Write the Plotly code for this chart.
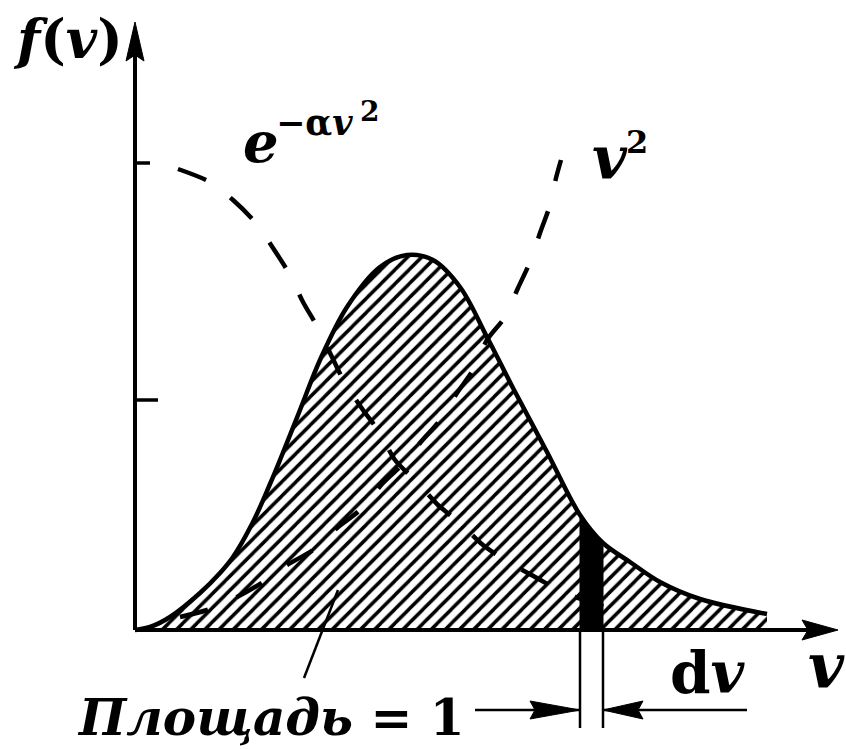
import plotly.graph_objects as go

# Drawing units: 1 unit = 100 px on both axes, origin of the v/f axes at (0, 0)

# Maxwell distribution f(v)
v_f = [0.00, 0.15, 0.35, 0.65, 0.85, 0.98, 1.18, 1.35, 1.45, 1.65, 1.85, 2.12,
       2.45, 2.72, 2.98, 3.25, 3.52, 3.78, 4.12, 4.45, 4.68, 4.95, 5.25, 5.65, 6.32]
f_v = [0.00, 0.03, 0.13, 0.37, 0.57, 0.73, 1.08, 1.46, 1.70, 2.20, 2.70, 3.23,
       3.63, 3.75, 3.70, 3.43, 2.93, 2.42, 1.78, 1.15, 0.87, 0.68, 0.48, 0.31, 0.16]

# exponential factor e^(-a v^2)
v_exp = [0.43, 0.75, 0.98, 1.20, 1.38, 1.55, 1.68, 1.83, 1.97, 2.10, 2.28, 2.45,
         2.60, 2.82, 3.03, 3.25, 3.48, 3.73, 4.02, 4.27, 4.72, 4.85]
f_exp = [4.61, 4.48, 4.30, 4.08, 3.82, 3.55, 3.28, 3.02, 2.73, 2.47, 2.20, 1.97,
         1.70, 1.48, 1.25, 1.07, 0.85, 0.68, 0.52, 0.38, 0.22, 0.15]

# quadratic factor v^2
v_sq = [0.45, 0.72, 1.02, 1.28, 1.52, 1.78, 2.02, 2.25, 2.48, 2.72, 2.85, 3.05,
        3.22, 3.38, 3.52, 3.70, 3.83, 3.95, 4.05, 4.15, 4.21, 4.26]
f_sq = [0.13, 0.20, 0.33, 0.48, 0.65, 0.80, 1.02, 1.20, 1.47, 1.70, 1.87, 2.10,
        2.37, 2.60, 2.90, 3.13, 3.42, 3.68, 3.97, 4.25, 4.52, 4.70]

# the narrow interval dv
dv_lo, dv_hi = 4.45, 4.68

# marks on the f axis
f_ticks = [2.30, 4.67]
f_tick_len = [0.23, 0.15]

INK = "black"
SERIF = "DejaVu Serif"

fig = go.Figure()

# hatched area under f(v)
fig.add_trace(go.Scatter(
    x=v_f, y=f_v, mode="lines", fill="tozeroy",
    fillcolor="white",
    fillpattern=dict(shape="/", size=10, solidity=0.35, fgcolor=INK,
                     bgcolor="white", fillmode="replace"),
    line=dict(color=INK, width=4.5, shape="spline", smoothing=1.0),
    hoverinfo="skip"))

# dashed factors
fig.add_trace(go.Scatter(
    x=v_exp, y=f_exp, mode="lines",
    line=dict(color=INK, width=4.5, dash="30px,30px", shape="spline", smoothing=0.8),
    hoverinfo="skip"))
fig.add_trace(go.Scatter(
    x=v_sq, y=f_sq, mode="lines",
    line=dict(color=INK, width=4.5, dash="29px,31px", shape="spline", smoothing=0.8),
    hoverinfo="skip"))

# black strip f(v) dv
strip = [(v, f) for v, f in zip(v_f, f_v) if dv_lo <= v <= dv_hi]
sx = [strip[0][0]] + [p[0] for p in strip] + [strip[-1][0]]
sy = [0] + [p[1] for p in strip] + [0]
fig.add_trace(go.Scatter(
    x=sx, y=sy, mode="lines", fill="toself", fillcolor=INK,
    line=dict(color=INK, width=1), hoverinfo="skip"))

shapes = []
v_end, f_end = 7.03, 6.08

# axes
shapes.append(dict(type="line", x0=0, y0=0, x1=v_end - 0.25, y1=0,
                   line=dict(color=INK, width=4)))
shapes.append(dict(type="line", x0=0, y0=0, x1=0, y1=f_end - 0.25,
                   line=dict(color=INK, width=4)))
shapes.append(dict(type="path",
                   path=f"M {v_end},0 L {v_end-0.36},0.10 L {v_end-0.30},0 L {v_end-0.36},-0.10 Z",
                   fillcolor=INK, line=dict(color=INK, width=1)))
shapes.append(dict(type="path",
                   path=f"M 0,{f_end} L 0.09,{f_end-0.39} L 0,{f_end-0.33} L -0.09,{f_end-0.39} Z",
                   fillcolor=INK, line=dict(color=INK, width=1)))
for fv, ln in zip(f_ticks, f_tick_len):
    shapes.append(dict(type="line", x0=0, y0=fv, x1=ln, y1=fv,
                       line=dict(color=INK, width=3.5)))

# dv extension lines and arrows
y_arr, y_low = -0.80, -0.98
for xv in (dv_lo, dv_hi):
    shapes.append(dict(type="line", x0=xv, y0=0, x1=xv, y1=y_low,
                       line=dict(color=INK, width=2.5)))
shapes.append(dict(type="line", x0=dv_lo - 1.05, y0=y_arr, x1=dv_lo, y1=y_arr,
                   line=dict(color=INK, width=2.5)))
shapes.append(dict(type="line", x0=dv_hi, y0=y_arr, x1=dv_hi + 1.44, y1=y_arr,
                   line=dict(color=INK, width=2.5)))
shapes.append(dict(type="path",
                   path=f"M {dv_lo},{y_arr} L {dv_lo-0.50},{y_arr+0.09} L {dv_lo-0.45},{y_arr} L {dv_lo-0.50},{y_arr-0.09} Z",
                   fillcolor=INK, line=dict(color=INK, width=1)))
shapes.append(dict(type="path",
                   path=f"M {dv_hi},{y_arr} L {dv_hi+0.40},{y_arr+0.09} L {dv_hi+0.35},{y_arr} L {dv_hi+0.40},{y_arr-0.09} Z",
                   fillcolor=INK, line=dict(color=INK, width=1)))

# leader line to the area label
shapes.append(dict(type="line", x0=2.03, y0=0.40, x1=1.69, y1=-0.48,
                   line=dict(color=INK, width=2.5)))


def label(text, x, y, size):
    return dict(text=text, x=x, y=y, xref="x", yref="y", showarrow=False,
                xanchor="left", yanchor="middle",
                font=dict(family=SERIF, size=size, color=INK))


annotations = [
    label("<b><i>f</i>(<i>v</i>)</b>", -1.24, 5.91, 54),
    label("<b><i>e</i></b>", 1.06, 4.88, 56),
    label("<b>−α<i>v</i></b>", 1.39, 5.08, 35),
    label("<b>2</b>", 2.23, 5.19, 28),
    label("<b><i>v</i></b>", 4.55, 4.72, 60),
    label("<b>2</b>", 4.89, 4.88, 32),
    label("<b><i>v</i></b>", 6.71, -0.35, 62),
    label("<b>d<i>v</i></b>", 5.33, -0.43, 58),
    label("<b><i>Площадь</i> = 1</b>", -0.60, -0.87, 50),
]

fig.update_layout(
    width=846, height=749,
    margin=dict(l=0, r=0, t=0, b=0),
    paper_bgcolor="white", plot_bgcolor="white",
    showlegend=False,
    xaxis=dict(range=[-1.35, 7.11], visible=False, fixedrange=True),
    yaxis=dict(range=[-1.19, 6.30], visible=False, fixedrange=True),
    shapes=shapes,
    annotations=annotations,
)

fig.write_html("out.html")
